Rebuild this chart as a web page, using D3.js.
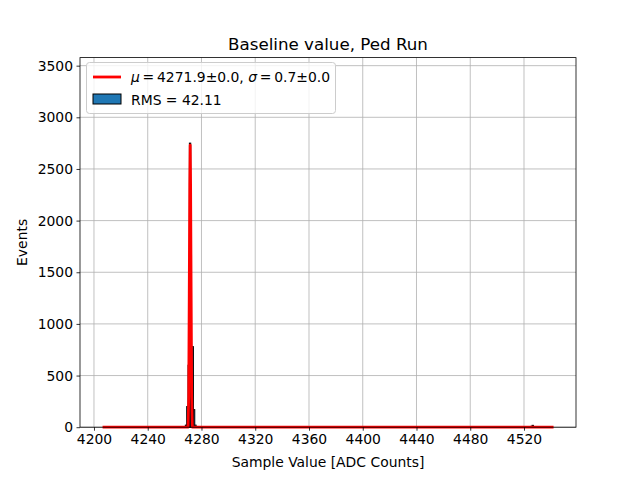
<!DOCTYPE html>
<html>
<head>
<meta charset="utf-8">
<script src="https://cdn.jsdelivr.net/npm/d3@7"></script>
<style>
  body { margin: 0; background: #fff; }
  text { font-family: "DejaVu Sans", sans-serif; }
</style>
</head>
<body>
<svg id="chart"></svg>
<script>
// histogram: 1-count-wide bins, only the non-empty ones listed
const histRange = [4206, 4542];
const binLefts  = [4218, 4221, 4225, 4266, 4268, 4269, 4270, 4271, 4272, 4273, 4274, 4275, 4447, 4525, 4526];
const binCounts = [4, 6, 3, 6, 20, 200, 600, 2750, 400, 780, 170, 20, 3, 8, 18];

// fitted gaussian, points
const fitX = [4206.4, 4270.0, 4270.5, 4270.9, 4271.3, 4271.6, 4271.9, 4272.3, 4272.7, 4273.2, 4542];
const fitY = [0, 0, 300, 1300, 2350, 2730, 2350, 1300, 300, 0, 0];

const xTicks = [4200, 4240, 4280, 4320, 4360, 4400, 4440, 4480, 4520];
const yTicks = [0, 500, 1000, 1500, 2000, 2500, 3000, 3500];
const xDomain = [4189.6, 4558.7];
const yDomain = [0, 3578];

const width = 640, height = 480;
const margin = { left: 80, right: 64, top: 57.6, bottom: 52.8 };

const svg = d3.select('#chart')
  .attr('width', width)
  .attr('height', height)
  .attr('viewBox', `0 0 ${width} ${height}`);

const x = d3.scaleLinear().domain(xDomain).range([margin.left, width - margin.right]);
const y = d3.scaleLinear().domain(yDomain).range([height - margin.bottom, margin.top]);

const countOf = new Map(binLefts.map((b, i) => [b, binCounts[i]]));
const bins = d3.range(histRange[0], histRange[1]).map(b => ({ x0: b, x1: b + 1, n: countOf.get(b) || 0 }));

// grid
svg.append('g')
  .selectAll('line')
  .data(xTicks)
  .enter().append('line')
    .attr('x1', d => x(d)).attr('x2', d => x(d))
    .attr('y1', y.range()[0]).attr('y2', y.range()[1])
    .style('stroke', '#b0b0b0')
    .style('stroke-width', 0.8);
svg.append('g')
  .selectAll('line')
  .data(yTicks)
  .enter().append('line')
    .attr('x1', x.range()[0]).attr('x2', x.range()[1])
    .attr('y1', d => y(d)).attr('y2', d => y(d))
    .style('stroke', '#b0b0b0')
    .style('stroke-width', 0.8);

// bars
svg.append('g')
  .selectAll('rect')
  .data(bins)
  .enter().append('rect')
    .attr('x', d => x(d.x0))
    .attr('y', d => y(d.n))
    .attr('width', d => x(d.x1) - x(d.x0))
    .attr('height', d => y(0) - y(d.n))
    .style('fill', '#1f77b4')
    .style('stroke', '#000')
    .style('stroke-width', 1);

// fit line
svg.append('path')
  .datum(fitX.map((v, i) => [v, fitY[i]]))
  .attr('d', d3.line().x(d => x(d[0])).y(d => y(d[1])))
  .style('fill', 'none')
  .style('stroke', 'red')
  .style('stroke-width', 2.8)
  .style('stroke-linejoin', 'round');

// axes
const xAxis = svg.append('g')
  .attr('transform', `translate(0, ${y.range()[0]})`)
  .call(d3.axisBottom(x).tickValues(xTicks).tickSize(3.5).tickPadding(3.5).tickFormat(d3.format('d')));
const yAxis = svg.append('g')
  .attr('transform', `translate(${x.range()[0]}, 0)`)
  .call(d3.axisLeft(y).tickValues(yTicks).tickSize(3.5).tickPadding(3.5).tickFormat(d3.format('d')));
[xAxis, yAxis].forEach(a => {
  a.select('.domain').remove();
  a.selectAll('.tick line').style('stroke', '#000').style('stroke-width', 0.8);
  a.selectAll('.tick text')
    .style('font-family', '"DejaVu Sans", sans-serif')
    .style('font-size', '13.9px')
    .style('fill', '#000');
});

// frame
svg.append('rect')
  .attr('x', x.range()[0]).attr('y', y.range()[1])
  .attr('width', x.range()[1] - x.range()[0])
  .attr('height', y.range()[0] - y.range()[1])
  .style('fill', 'none')
  .style('stroke', '#000')
  .style('stroke-width', 0.8);

// labels
svg.append('text')
  .attr('x', (x.range()[0] + x.range()[1]) / 2)
  .attr('y', 49.5)
  .attr('text-anchor', 'middle')
  .style('font-size', '16.7px')
  .text('Baseline value, Ped Run');
svg.append('text')
  .attr('x', (x.range()[0] + x.range()[1]) / 2)
  .attr('y', 467)
  .attr('text-anchor', 'middle')
  .style('font-size', '13.9px')
  .text('Sample Value [ADC Counts]');
svg.append('text')
  .attr('transform', `translate(27, ${(y.range()[0] + y.range()[1]) / 2}) rotate(-90)`)
  .attr('text-anchor', 'middle')
  .style('font-size', '13.9px')
  .text('Events');

// legend
const lg = svg.append('g');
lg.append('rect')
  .attr('x', 86.5).attr('y', 62.5)
  .attr('width', 249).attr('height', 51)
  .attr('rx', 3)
  .style('fill', 'rgba(255,255,255,0.8)')
  .style('stroke', '#cccccc')
  .style('stroke-width', 1);
lg.append('line')
  .attr('x1', 93).attr('x2', 121)
  .attr('y1', 77).attr('y2', 77)
  .style('stroke', 'red')
  .style('stroke-width', 2.8);
const t1 = lg.append('text')
  .attr('x', 131).attr('y', 82)
  .style('font-size', '13.9px');
t1.append('tspan').style('font-style', 'italic').text('\u03bc');
t1.append('tspan').text('\u2009=\u20094271.9\u00b10.0, ');
t1.append('tspan').style('font-style', 'italic').text('\u03c3');
t1.append('tspan').text('\u2009=\u20090.7\u00b10.0');
lg.append('rect')
  .attr('x', 93).attr('y', 94)
  .attr('width', 28).attr('height', 10)
  .style('fill', '#1f77b4')
  .style('stroke', '#000')
  .style('stroke-width', 1);
lg.append('text')
  .attr('x', 131).attr('y', 105)
  .style('font-size', '13.9px')
  .text('RMS = 42.11');
</script>
</body>
</html>
